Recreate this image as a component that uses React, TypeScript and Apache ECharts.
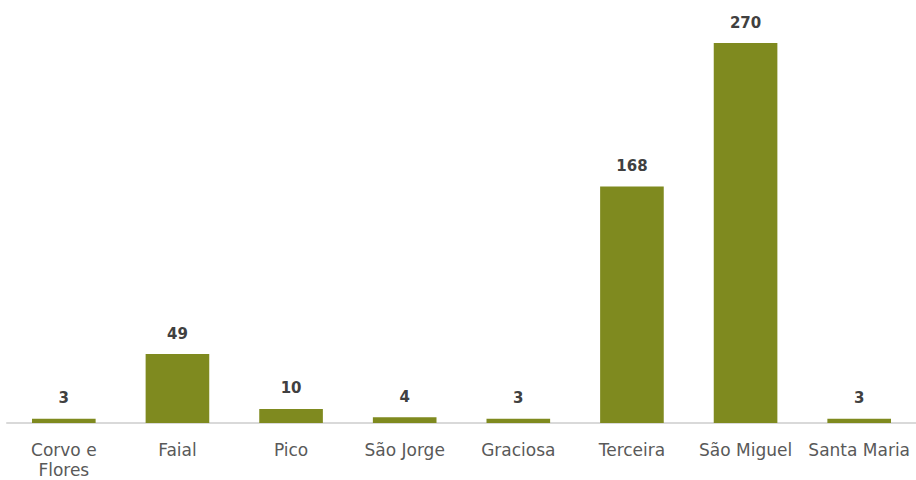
import React, { useEffect, useRef } from "react";
import * as echarts from "echarts";

const categories = ["Corvo e\nFlores", "Faial", "Pico", "São Jorge", "Graciosa", "Terceira", "São Miguel", "Santa Maria"];
const values = [3, 49, 10, 4, 3, 168, 270, 3];

export default function App() {
  const ref = useRef<HTMLDivElement>(null);
  useEffect(() => {
    const chart = echarts.init(ref.current!, undefined, { renderer: "svg" });
    chart.setOption({
      animation: false,
      grid: { left: 7, right: 0, top: 43, bottom: 55, containLabel: false },
      xAxis: {
        type: "category",
        data: categories,
        axisLine: { lineStyle: { color: "#d9d9d9", width: 2 } },
        axisTick: { show: false },
        axisLabel: {
          color: "#595959",
          fontSize: 17,
          fontFamily: "'DejaVu Sans', sans-serif",
          margin: 17,
          lineHeight: 20,
          interval: 0,
        },
      },
      yAxis: {
        type: "value",
        min: 0,
        max: 270,
        show: false,
        splitLine: { show: false },
      },
      series: [
        {
          type: "bar",
          data: values,
          barWidth: "56%",
          itemStyle: { color: "#7F8A1F" },
          label: {
            show: true,
            position: "top",
            distance: 13,
            color: "#404040",
            fontSize: 15,
            fontWeight: "bold",
            fontFamily: "'DejaVu Sans', sans-serif",
          },
        },
      ],
    });
    return () => chart.dispose();
  }, []);
  return <div ref={ref} style={{ width: 916, height: 480, position: "absolute", left: 0, top: 0 }} />;
}
